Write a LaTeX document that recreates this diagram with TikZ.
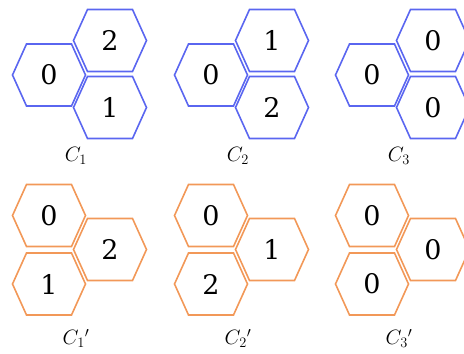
\documentclass[tikz,border=0pt]{standalone}
\usepackage{fontspec}
\usepackage{tikz}
\usetikzlibrary{calc}

\newfontfamily\cellfont{DejaVu Serif}
\definecolor{cellblue}{RGB}{90,102,240}
\definecolor{cellorange}{RGB}{242,152,88}

\tikzset{
  cell/.style={line width=1.6pt, line join=miter},
  digit/.style={font=\cellfont\fontsize{27}{30}\selectfont},
  cname/.style={font=\fontsize{21}{24}\selectfont}
}

%% one hexagonal cell: centre coordinate, colour, number
\newcommand{\hexcell}[3]{%
  \draw[cell,#2] ($(#1)+(-36.5,0)$) -- ++(14,31) -- ++(45,0) -- ++(14,-31)
    -- ++(-14,-31) -- ++(-45,0) -- cycle;
  \node[digit] (n#1) at (#1) {#3};
}

\begin{document}
\begin{tikzpicture}[x=1pt,y=-1pt]
  \useasboundingbox (0,0) rectangle (464,354);

  %% Top row: C_1, C_2, C_3
  \foreach \g/\cx/\a/\b/\c in {1/49/0/2/1, 2/211/0/1/2, 3/372/0/0/0}
  {
    \coordinate (L\g) at (\cx,75);
    \coordinate (U\g) at ($(L\g)+(61,-34.5)$);
    \coordinate (W\g) at ($(L\g)+(61,32.5)$);
    \hexcell{L\g}{cellblue}{\a}
    \hexcell{U\g}{cellblue}{\b}
    \hexcell{W\g}{cellblue}{\c}
    \node[cname] (C\g) at ($(L\g)+(27,81)$) {$C_{\g}$};
  }

  %% Bottom row: C_1', C_2', C_3'
  \foreach \g/\cx/\a/\b/\c in {1/49/0/2/1, 2/211/0/1/2, 3/372/0/0/0}
  {
    \coordinate (R\g) at ($(\cx,249.5)+(61,0)$);
    \coordinate (LU\g) at ($(R\g)+(-61,-34)$);
    \coordinate (LW\g) at ($(R\g)+(-61,34.5)$);
    \hexcell{LU\g}{cellorange}{\a}
    \hexcell{R\g}{cellorange}{\b}
    \hexcell{LW\g}{cellorange}{\c}
    \node[cname] (D\g) at ($(LU\g)+(27,123)$) {$C_{\g}{}'$};
  }
\end{tikzpicture}
\end{document}
